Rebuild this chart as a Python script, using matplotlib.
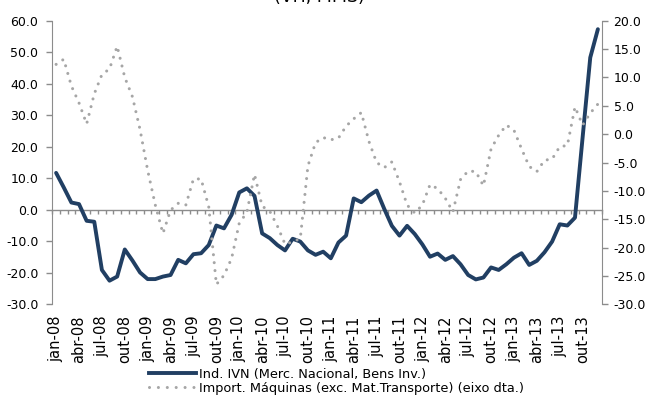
import matplotlib
matplotlib.use("Agg")
import matplotlib.pyplot as plt
from matplotlib.lines import Line2D
from matplotlib.ticker import FixedLocator, FormatStrFormatter, MultipleLocator

# monthly series, jan-08 .. dez-13
months_pt = ["jan", "fev", "mar", "abr", "mai", "jun", "jul", "ago", "set", "out", "nov", "dez"]
years = ["08", "09", "10", "11", "12", "13"]
month_labels = [f"{m}-{y}" for y in years for m in months_pt]

ivn = [11.7, 7.1, 2.3, 1.8, -3.5, -3.8, -19.1, -22.5, -21.2, -12.6,
       -16.1, -19.9, -22.0, -22.0, -21.2, -20.7, -15.9, -17.0, -14.1, -13.8,
       -11.2, -5.0, -5.9, -1.6, 5.5, 6.8, 4.4, -7.5, -9.0, -11.2,
       -12.9, -9.2, -10.1, -12.9, -14.3, -13.3, -15.4, -10.4, -8.2, 3.6,
       2.4, 4.5, 6.1, 0.3, -5.1, -8.2, -5.1, -7.7, -11.0, -14.9,
       -13.9, -15.9, -14.7, -17.3, -20.7, -22.1, -21.5, -18.3, -19.1, -17.3,
       -15.2, -13.8, -17.5, -16.2, -13.5, -10.1, -4.6, -5.0, -2.5, 23.0,
       48.3, 57.3]

import_maq = [12.3, 13.2, 8.5, 5.5, 1.8, 7.1, 10.5, 11.5, 15.5, 10.0,
              6.6, 0.8, -6.4, -12.5, -17.5, -13.4, -12.2, -12.5, -7.9, -7.9,
              -12.8, -26.5, -24.9, -21.9, -15.7, -13.8, -7.1, -12.7, -13.6, -16.2,
              -19.4, -19.0, -18.4, -5.6, -1.5, -0.6, -1.0, -0.7, 1.4, 2.7,
              3.8, -1.3, -5.0, -5.9, -4.9, -8.4, -12.5, -13.9, -12.5, -8.9,
              -9.6, -11.3, -13.7, -8.0, -6.5, -6.6, -9.1, -2.6, -0.2, 1.6,
              0.7, -2.6, -5.7, -6.6, -4.6, -4.4, -2.2, -2.0, 4.8, 1.6,
              3.7, 5.3]

label_ivn = "Ind. IVN (Merc. Nacional, Bens Inv.)"
label_imp = "Import. Máquinas (exc. Mat.Transporte) (eixo dta.)"
title = "(VH, MMS)"

BLUE = "#213f63"
GREY = "#a6a6a6"
AXGREY = "#8c8c8c"

plt.rcParams["axes.unicode_minus"] = False

fig = plt.figure(figsize=(6.46, 4.03), dpi=100)
ax = fig.add_axes([52.3 / 646, 1 - 304.3 / 403, (601.7 - 52.3) / 646, (304.3 - 20.7) / 403])
ax2 = ax.twinx()

x = list(range(len(ivn)))
ax.plot(x, ivn, color=BLUE, lw=2.8, solid_joinstyle="round", solid_capstyle="round", zorder=3)
ax2.plot(x, import_maq, color=GREY, lw=2.2, linestyle=(0, (0.01, 2.6)),
         dash_capstyle="round", zorder=3)

ax.set_xlim(-0.5, len(ivn) - 0.5)
ax.set_ylim(-30, 60)
ax2.set_ylim(-30, 20)
ax.yaxis.set_major_locator(MultipleLocator(10))
ax2.yaxis.set_major_locator(MultipleLocator(5))
ax.yaxis.set_major_formatter(FormatStrFormatter("%.1f"))
ax2.yaxis.set_major_formatter(FormatStrFormatter("%.1f"))

# spines: left / right only, category axis sitting on zero
for a in (ax, ax2):
    a.spines["top"].set_visible(False)
    a.patch.set_visible(False)
ax.spines["right"].set_visible(False)
ax2.spines["left"].set_visible(False)
ax2.spines["bottom"].set_visible(False)
ax.spines["left"].set_color(AXGREY)
ax2.spines["right"].set_color(AXGREY)
ax.spines["bottom"].set_position(("data", 0))
ax.spines["bottom"].set_color(AXGREY)
ax.spines["bottom"].set_linewidth(1.0)
ax.spines["bottom"].set_zorder(2)

# category ticks on boundaries, labels every quarter
ax.xaxis.set_major_locator(FixedLocator(x[::3]))
ax.xaxis.set_minor_locator(FixedLocator([i - 0.5 for i in range(len(ivn) + 1)]))
ax.set_xticklabels(month_labels[::3])
ax.tick_params(axis="x", which="major", length=0, labelbottom=False)
ax.tick_params(axis="x", which="minor", length=3, width=1, color=AXGREY, direction="out")

ax2.xaxis.set_visible(True)
ax2.tick_params(axis="x", which="both", length=0, labelbottom=True, labeltop=False,
                labelsize=10.5, labelrotation=90, pad=8)

ax.tick_params(axis="y", length=4, width=1, color=AXGREY, labelsize=9, pad=6)
ax2.tick_params(axis="y", length=4, width=1, color=AXGREY, labelsize=9, pad=4.5)

fig.text(319 / 646, 1 - 1.5 / 403, title, ha="center", va="baseline", fontsize=12.5)

handles = [
    Line2D([], [], color=BLUE, lw=2.8),
    Line2D([], [], color=GREY, lw=2.2, linestyle=(0, (0.01, 2.9)), dash_capstyle="round"),
]
fig.legend(handles, [label_ivn, label_imp], loc="upper left",
           bbox_to_anchor=(149 / 646, 1 - 368 / 403), frameon=False, fontsize=9.3,
           handlelength=3.6, handletextpad=0.3, labelspacing=0.05,
           borderpad=0, borderaxespad=0)

fig.savefig("out.png", dpi=100)
